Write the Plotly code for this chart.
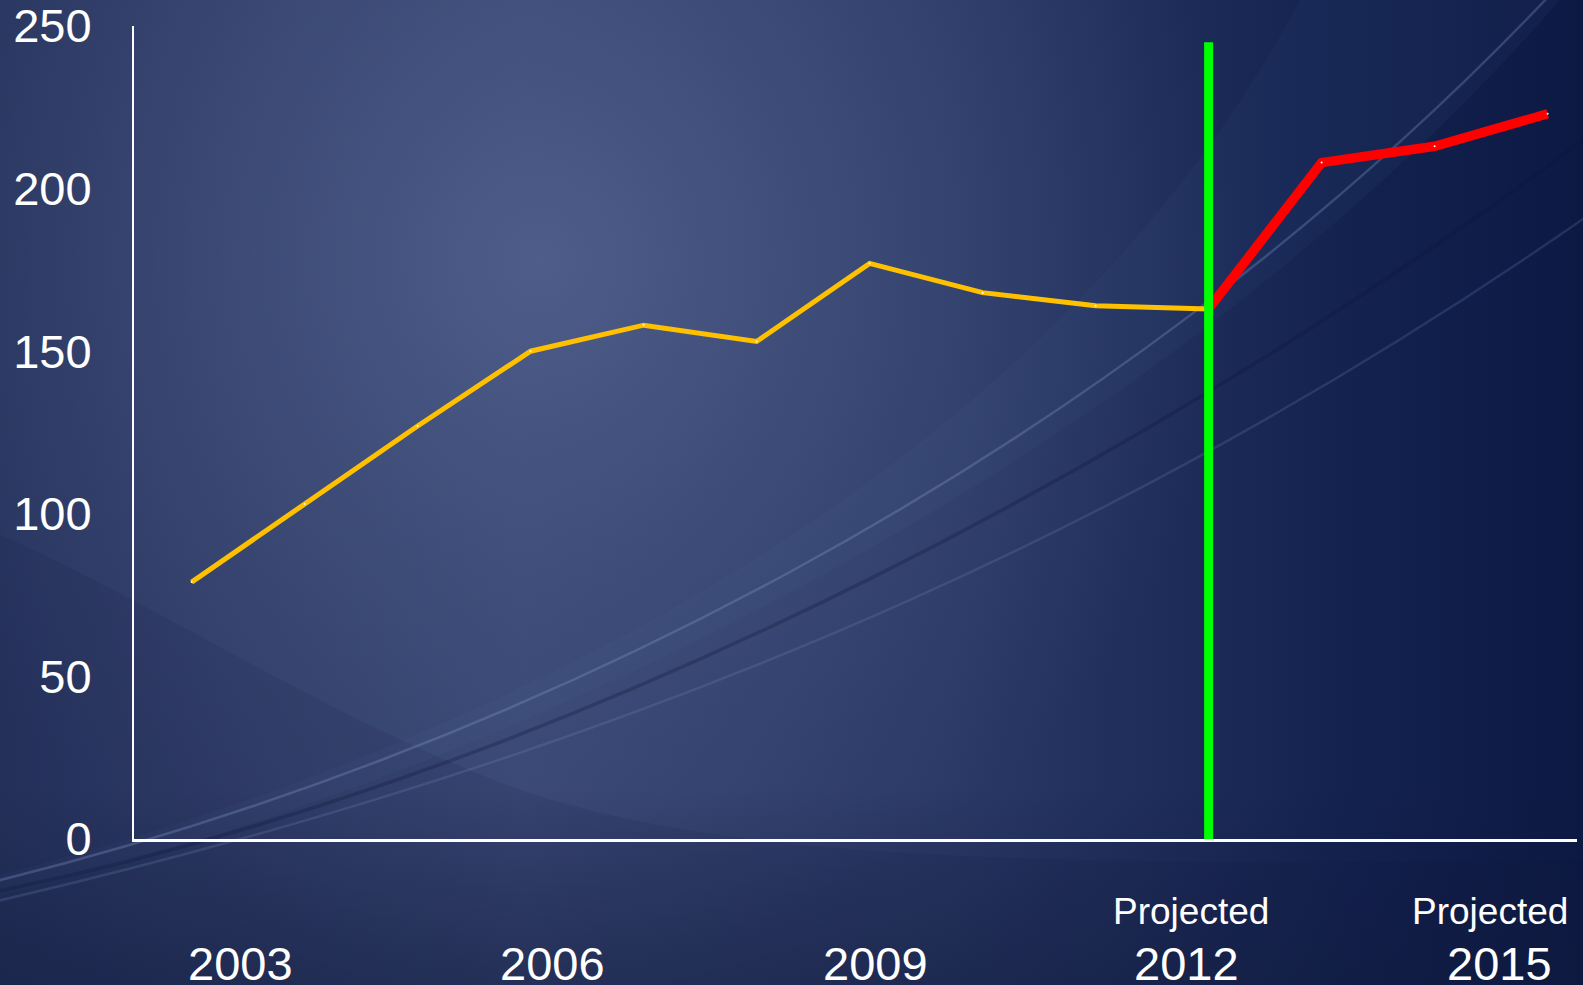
import base64
import plotly.graph_objects as go

# ---- data ----
actual_years = [2003, 2004, 2005, 2006, 2007, 2008, 2009, 2010, 2011, 2012]
actual_values = [79, 103, 127, 150, 158, 153, 177, 168, 164, 163]
proj_years = [2012, 2013, 2014, 2015]
proj_values = [163, 208, 213, 223]
y_ticks = [0, 50, 100, 150, 200, 250]
year_labels = ["2003", "2006", "2009", "2012", "2015"]
year_label_pos = [2003.43, 2006.19, 2009.05, 2011.80, 2014.57]
proj_label_pos = [2011.84, 2014.49]
divider_year = 2012
divider_top = 245

W, H = 1583, 985
L, R, T, B = 134, 6, 26, 146

# ---- decorative background (SVG) ----
svg = f'''<svg xmlns="http://www.w3.org/2000/svg" width="{W}" height="{H}" viewBox="0 0 {W} {H}">
<defs>
<linearGradient id="g1" x1="0" y1="0" x2="1" y2="0">
<stop offset="0" stop-color="#27345e"/>
<stop offset="0.33" stop-color="#394874"/>
<stop offset="0.6" stop-color="#2a3965"/>
<stop offset="0.85" stop-color="#13224f"/>
<stop offset="1" stop-color="#0c1943"/>
</linearGradient>
<radialGradient id="g2" cx="540" cy="260" r="700" gradientUnits="userSpaceOnUse">
<stop offset="0" stop-color="#4f5e8a" stop-opacity="0.95"/>
<stop offset="0.5" stop-color="#45547f" stop-opacity="0.5"/>
<stop offset="1" stop-color="#3a4874" stop-opacity="0"/>
</radialGradient>
<linearGradient id="g3" x1="0" y1="0" x2="0" y2="1">
<stop offset="0" stop-color="#101a3c" stop-opacity="0"/>
<stop offset="0.8" stop-color="#101a3c" stop-opacity="0"/>
<stop offset="1" stop-color="#101a3c" stop-opacity="0.45"/>
</linearGradient>
</defs>
<rect width="{W}" height="{H}" fill="url(#g1)"/>
<rect width="{W}" height="{H}" fill="url(#g2)"/>
<path d="M -20 880 C 500 750, 1050 470, 1300 0 L 1560 0 C 1150 470, 500 780, -20 900 Z" fill="#6a85c0" fill-opacity="0.06"/>
<path d="M 0 535 C 150 600, 330 720, 520 790 C 700 850, 950 870, 1583 860 L 1583 985 L 0 985 Z" fill="#0f1838" fill-opacity="0.10"/>
<rect width="{W}" height="{H}" fill="url(#g3)"/>
<path d="M -20 885 C 500 760, 1100 470, 1550 -5" stroke="#8fa5d6" stroke-opacity="0.28" stroke-width="2.5" fill="none"/>
<path d="M -20 895 C 600 770, 1200 430, 1610 120" stroke="#0c1638" stroke-opacity="0.28" stroke-width="3.5" fill="none"/>
<path d="M -20 905 C 700 740, 1200 490, 1610 200" stroke="#7f95c8" stroke-opacity="0.2" stroke-width="2.5" fill="none"/>
</svg>'''
bg_uri = "data:image/svg+xml;base64," + base64.b64encode(svg.encode()).decode()

pw, ph = W - L - R, H - T - B

fig = go.Figure()
fig.add_trace(go.Scatter(
    x=actual_years, y=actual_values, mode="lines+markers",
    line=dict(color="#FFC000", width=5),
    marker=dict(size=2, color="white"),
    showlegend=False, hoverinfo="x+y",
))
fig.add_trace(go.Scatter(
    x=proj_years, y=proj_values, mode="lines+markers",
    line=dict(color="#FF0000", width=9.5),
    marker=dict(size=2, color="white"),
    showlegend=False, hoverinfo="x+y",
))

fig.add_shape(type="line", xref="x", yref="y",
              x0=divider_year, x1=divider_year, y0=0, y1=divider_top,
              line=dict(color="#00FF00", width=9), layer="above")

# label rows sit below the x axis, positioned in paper units (pixels / plot height)
year_row_y = -125 / ph
proj_row_y = -73 / ph

annotations = []
for lab, xp in zip(year_labels, year_label_pos):
    annotations.append(dict(x=xp, y=year_row_y, xref="x", yref="paper", text=lab,
                            showarrow=False, xanchor="center", yanchor="middle",
                            font=dict(size=47, color="white",
                                      family="Arial, Liberation Sans, sans-serif")))
for xp in proj_label_pos:
    annotations.append(dict(x=xp, y=proj_row_y, xref="x", yref="paper", text="Projected",
                            showarrow=False, xanchor="center", yanchor="middle",
                            font=dict(size=37, color="white",
                                      family="Arial, Liberation Sans, sans-serif")))

fig.update_layout(
    width=W, height=H,
    margin=dict(l=L, r=R, t=T, b=B, pad=0, autoexpand=False),
    paper_bgcolor="#1c2850",
    plot_bgcolor="rgba(0,0,0,0)",
    font=dict(family="Arial, Liberation Sans, sans-serif", color="white"),
    images=[dict(source=bg_uri, xref="paper", yref="paper",
                 x=-L / pw, y=1 + T / ph, sizex=W / pw, sizey=H / ph,
                 xanchor="left", yanchor="top", sizing="stretch", layer="below")],
    annotations=annotations,
    xaxis=dict(range=[2002.49, 2015.26], showgrid=False, zeroline=False,
               showticklabels=False, ticks="", showline=True, automargin=False,
               linecolor="white", linewidth=3, mirror=False, fixedrange=True),
    yaxis=dict(range=[0, 250], tickvals=y_ticks, showgrid=False, zeroline=False,
               showline=True, linecolor="white", linewidth=2, ticks="",
               automargin=False,
               tickfont=dict(size=47, color="white",
                             family="Arial, Liberation Sans, sans-serif"),
               ticklabelstandoff=31, ticklabeloverflow="allow", fixedrange=True),
)

fig.write_html("out.html", config={"displayModeBar": False},
               post_script="document.body.style.margin='0';document.body.style.background='#1c2850';")
